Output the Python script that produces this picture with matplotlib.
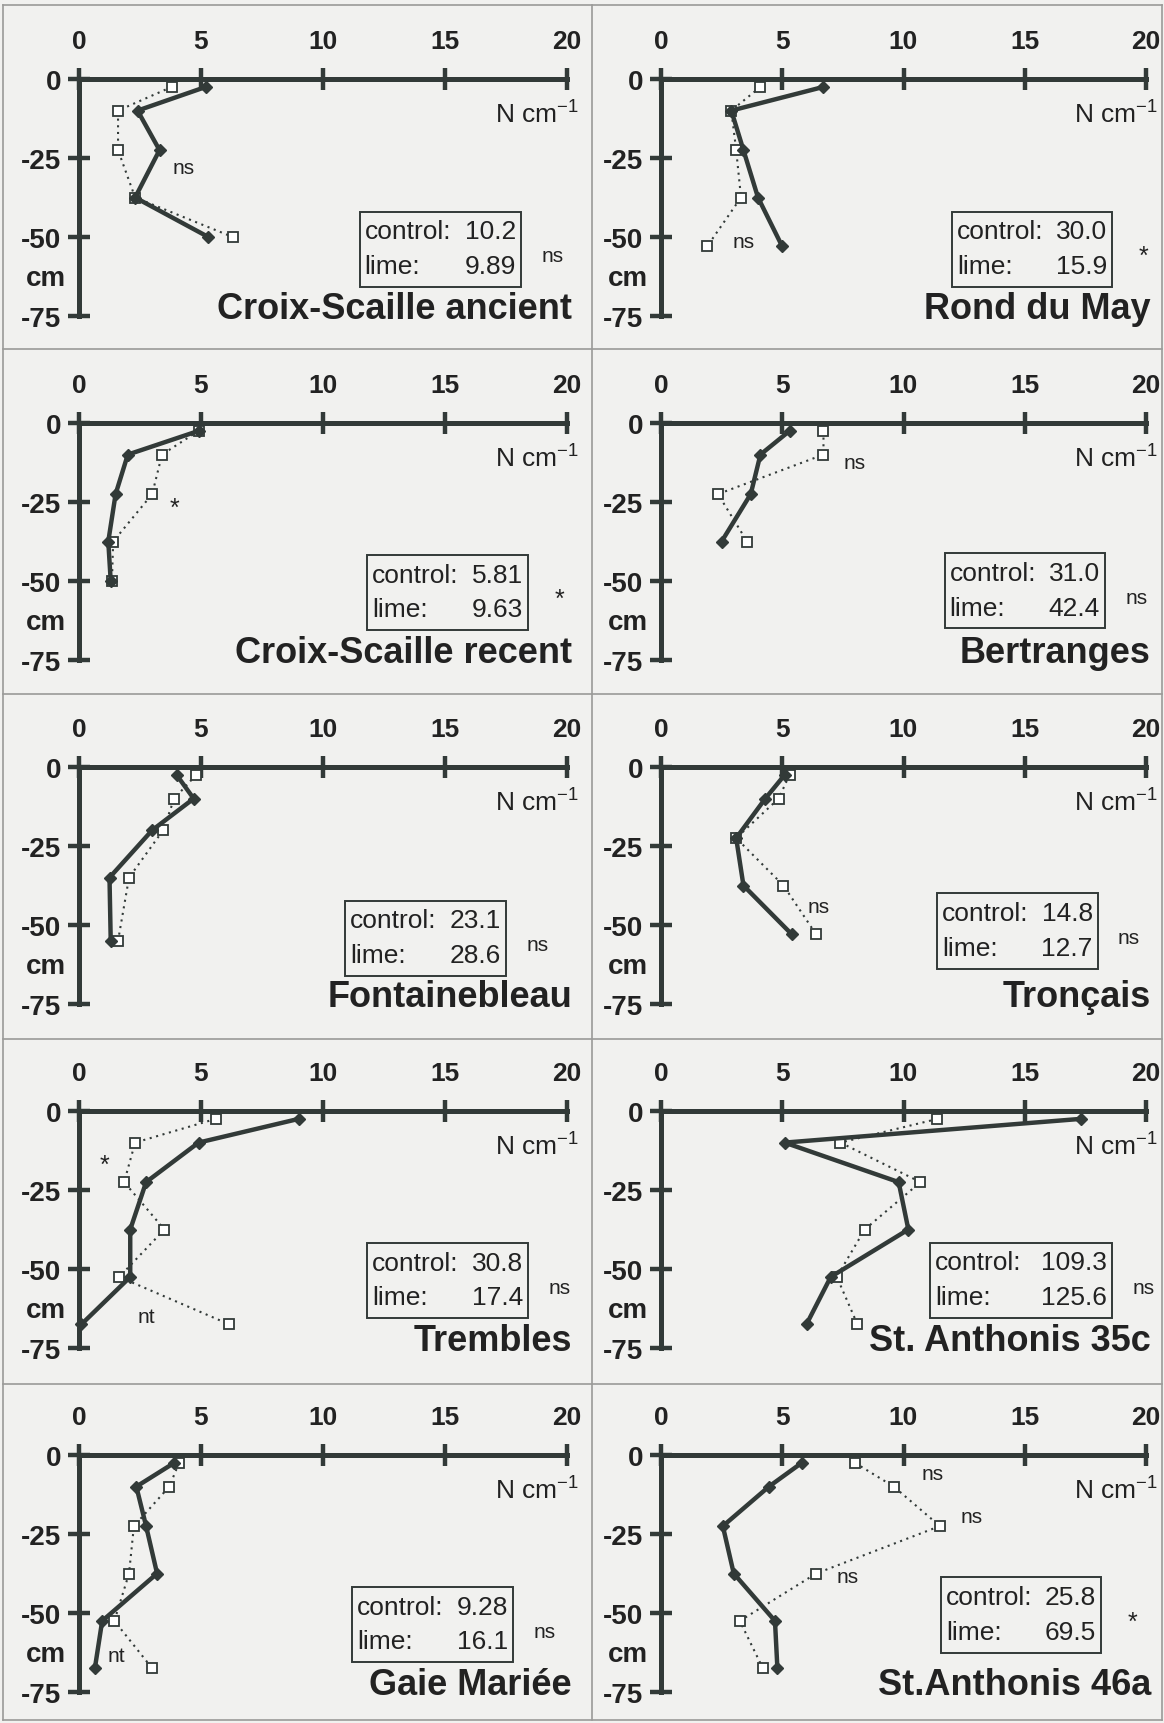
import matplotlib.pyplot as plt
import matplotlib.transforms as mtransforms
from matplotlib.lines import Line2D
from matplotlib.patches import Rectangle

plt.rcParams['font.family'] = ['Liberation Sans', 'DejaVu Sans']
plt.rcParams['mathtext.fontset'] = 'custom'
plt.rcParams['mathtext.rm'] = 'Liberation Sans'
plt.rcParams['axes.unicode_minus'] = False

# site names, panel order: left/right, top to bottom
sites = ['Croix-Scaille ancient', 'Rond du May',
         'Croix-Scaille recent', 'Bertranges',
         'Fontainebleau', 'Tronçais',
         'Trembles', 'St. Anthonis 35c',
         'Gaie Mariée', 'St.Anthonis 46a']

# depth (cm) of each sample
depths = [[-2.5, -10, -22.5, -37.5, -50],
          [-2.5, -10, -22.5, -37.5, -53],
          [-2.5, -10, -22.5, -37.5, -50],
          [-2.5, -10, -22.5, -37.5],
          [-2.5, -10, -20, -35, -55],
          [-2.5, -10, -22.5, -37.5, -53],
          [-2.5, -10, -22.5, -37.5, -52.5, -67.5],
          [-2.5, -10, -22.5, -37.5, -52.5, -67.5],
          [-2.5, -10, -22.5, -37.5, -52.5, -67.5],
          [-2.5, -10, -22.5, -37.5, -52.5, -67.5]]

# N cm-1, control plots
control = [[5.2, 2.4, 3.3, 2.3, 5.3],
           [6.7, 2.9, 3.4, 4.0, 5.0],
           [4.9, 2.0, 1.5, 1.2, 1.3],
           [5.3, 4.1, 3.7, 2.5],
           [4.0, 4.7, 3.0, 1.25, 1.3],
           [5.1, 4.3, 3.1, 3.4, 5.4],
           [9.0, 4.9, 2.75, 2.1, 2.1, 0.1],
           [17.3, 5.1, 9.8, 10.2, 7.0, 6.0],
           [3.9, 2.35, 2.75, 3.2, 0.95, 0.65],
           [5.8, 4.45, 2.55, 3.0, 4.7, 4.8]]

# N cm-1, limed plots
lime = [[3.8, 1.6, 1.6, 2.3, 6.3],
        [4.1, 2.9, 3.1, 3.3, 1.9],
        [4.9, 3.4, 3.0, 1.4, 1.35],
        [6.7, 6.7, 2.35, 3.55],
        [4.8, 3.9, 3.45, 2.05, 1.6],
        [5.3, 4.85, 3.1, 5.05, 6.4],
        [5.6, 2.3, 1.85, 3.5, 1.65, 6.15],
        [11.4, 7.4, 10.7, 8.4, 7.25, 8.1],
        [4.1, 3.7, 2.25, 2.05, 1.45, 3.0],
        [8.0, 9.6, 11.5, 6.4, 3.25, 4.2]]

# profile totals and test result
total_control = ['10.2', '30.0', '5.81', '31.0', '23.1', '14.8', '30.8', '109.3', '9.28', '25.8']
total_lime = ['9.89', '15.9', '9.63', '42.4', '28.6', '12.7', '17.4', '125.6', '16.1', '69.5']
total_sig = ['ns', '*', '*', 'ns', 'ns', 'ns', 'ns', 'ns', 'ns', '*']

# per-layer test labels inside the panels (x, depth, text)
notes = [[(4.3, -28, 'ns')],
         [(3.4, -51.5, 'ns')],
         [(3.9, -27, '*')],
         [(8.0, -12.5, 'ns')],
         [],
         [(6.5, -44, 'ns')],
         [(1.05, -17, '*'), (2.75, -65, 'nt')],
         [],
         [(1.55, -63.5, 'nt')],
         [(11.2, -6, 'ns'), (12.8, -19.5, 'ns'), (7.7, -38.5, 'ns')]]

# where the totals box sits (left x, top depth) in each panel
box_left = [11.5, 12.0, 11.8, 11.7, 10.9, 11.4, 11.8, 11.1, 11.2, 11.55]
box_top = [-42, -42, -41.8, -41.2, -42.3, -40, -41.8, -41.7, -41.8, -38.7]

W, H = 1164, 1724
dark = '#323a38'
txt = '#222222'
bg = '#f1f1ef'

fig = plt.figure(figsize=(W / 100, H / 100), dpi=100, facecolor=bg)

col_left = [79, 661]
col_w = [488, 485]
ax_h = 237

for i in range(10):
    r, c = divmod(i, 2)
    top = 80 + 344 * r
    ax = fig.add_axes([col_left[c] / W, 1 - (top + ax_h) / H, col_w[c] / W, ax_h / H])
    ax.patch.set_alpha(0)
    ax.set_xlim(0, 20)
    ax.set_ylim(-75, 0)
    ax.spines['right'].set_visible(False)
    ax.spines['bottom'].set_visible(False)
    for s in ['top', 'left']:
        ax.spines[s].set_linewidth(3.6)
        ax.spines[s].set_color(dark)
    ax.xaxis.tick_top()
    ax.set_xticks([0, 5, 10, 15, 20])
    ax.set_yticks([0, -25, -50, -75])
    ax.tick_params(axis='both', direction='inout', length=16, width=3.2, color=dark,
                   labelcolor=txt, labelsize=19)
    ax.tick_params(axis='x', pad=11)
    ax.tick_params(axis='y', pad=5, labelsize=20)
    plt.setp(ax.get_xticklabels() + ax.get_yticklabels(), fontweight='bold')

    # lime (dotted, open squares) then control (solid, diamonds)
    ax.plot(lime[i], depths[i], ls=(0, (1, 2.2)), lw=1.5, color=dark,
            marker='s', ms=6.5, mfc='white', mec=dark, mew=1.3, clip_on=False, zorder=3)
    ax.plot(control[i], depths[i], ls='-', lw=3.2, color=dark,
            marker='D', ms=6, mfc=dark, mec=dark, clip_on=False, zorder=4)

    ax.text(20.5, -10.8, r'N cm$^{\mathregular{-1}}$', ha='right', va='center',
            fontsize=19, color=txt)
    trans = mtransforms.blended_transform_factory(ax.transAxes, ax.transData)
    ax.text(-0.068, -63, 'cm', transform=trans, ha='center', va='center',
            fontsize=20, fontweight='bold', color=txt)

    # totals box, width follows the longest value
    bw = 7.5 if max(len(total_control[i]), len(total_lime[i])) > 4 else 6.6
    bx, by = box_left[i], box_top[i]
    ax.add_patch(Rectangle((bx, by - 23.8), bw, 23.8, fill=False, lw=1.4,
                           ec=dark, clip_on=False, zorder=2))
    ax.text(bx + 0.2, by - 6.2, 'control:', ha='left', va='center', fontsize=19, color=txt)
    ax.text(bx + bw - 0.2, by - 6.2, total_control[i], ha='right', va='center',
            fontsize=19, color=txt)
    ax.text(bx + 0.2, by - 17.2, 'lime:', ha='left', va='center', fontsize=19, color=txt)
    ax.text(bx + bw - 0.2, by - 17.2, total_lime[i], ha='right', va='center',
            fontsize=19, color=txt)
    ax.text(bx + bw + 1.3, by - 14, total_sig[i], ha='center', va='center',
            fontsize=15 if total_sig[i] == 'ns' else 18, color=txt)

    for nx, ny, nt in notes[i]:
        ax.text(nx, ny, nt, ha='center', va='center',
                fontsize=15 if nt != '*' else 18, color=txt)

    ax.text(20.2, -75.6, sites[i], ha='right', va='baseline', fontsize=26,
            fontweight='bold', color=txt)

# panel frame lines
grid_c = '#9a9a98'
for y in [6, 350, 695, 1040, 1385, 1721]:
    fig.add_artist(Line2D([3 / W, 1162 / W], [1 - y / H, 1 - y / H], lw=1.2, color=grid_c))
for x in [3, 592, 1162]:
    fig.add_artist(Line2D([x / W, x / W], [1 - 6 / H, 1 - 1721 / H], lw=1.2, color=grid_c))

fig.savefig('out.png', dpi=100, facecolor=bg)
